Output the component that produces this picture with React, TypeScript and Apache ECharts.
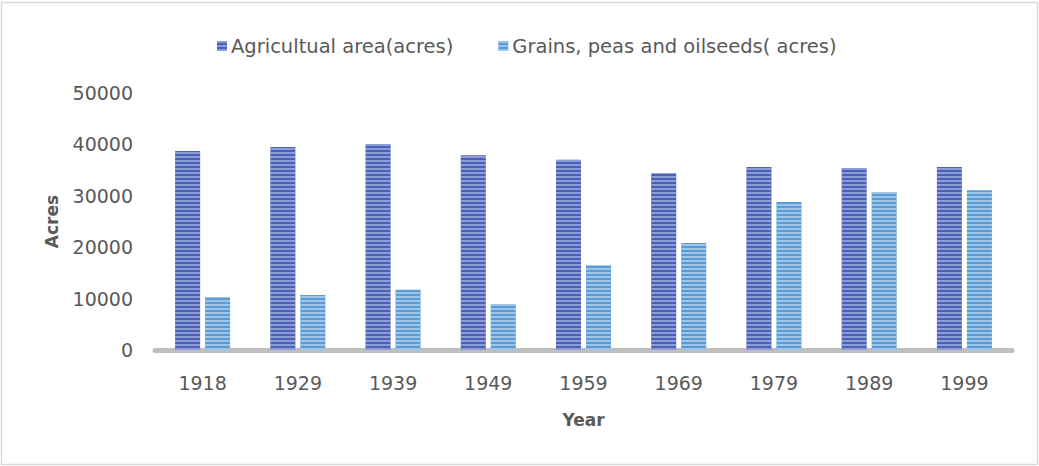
import React, { useEffect, useRef } from "react";
import * as echarts from "echarts";

const years = ["1918", "1929", "1939", "1949", "1959", "1969", "1979", "1989", "1999"];
const agriculturalArea = [38700, 39500, 40100, 37900, 37000, 34400, 35600, 35400, 35600];
const grainsPeasOilseeds = [10300, 10700, 11700, 8900, 16500, 20800, 28800, 30700, 31100];
const yTicks = [0, 10000, 20000, 30000, 40000, 50000];

const FONT = "'DejaVu Sans', 'Noto Sans', sans-serif";

export default function App() {
  const ref = useRef<HTMLDivElement>(null);
  useEffect(() => {
    if (!ref.current) return;
    const chart = echarts.init(ref.current, null, { renderer: "svg" });
    const stripe = (color: string) => ({
      symbol: "rect",
      symbolSize: 1,
      dashArrayX: [1, 0],
      dashArrayY: [1.6, 1.8],
      rotation: 0,
      color,
    });
    chart.setOption({
      animation: false,
      backgroundColor: "#ffffff",
      textStyle: { fontFamily: FONT },
      graphic: [
        {
          type: "rect",
          shape: { x: 1.5, y: 2.5, width: 1036, height: 462 },
          style: { fill: "none", stroke: "#d9d9d9", lineWidth: 1.5 },
          silent: true,
        },
      ],
      legend: {
        top: 31,
        left: 212,
        itemWidth: 10,
        itemHeight: 10,
        itemGap: 45,
        icon: "rect",
        textStyle: { fontSize: 19.5, color: "#595959", fontFamily: FONT, padding: [0, 0, 0, -1] },
        data: ["Agricultual area(acres)", "Grains, peas and oilseeds( acres)"],
      },
      grid: { left: 155, right: 27, top: 93, bottom: 116, containLabel: false },
      xAxis: {
        type: "category",
        data: years,
        name: "Year",
        nameLocation: "middle",
        nameGap: 61,
        nameTextStyle: { fontSize: 17, fontWeight: "bold", color: "#595959", fontFamily: FONT },
        axisLine: { show: true, lineStyle: { color: "#bfbfbf", width: 5 } },
        axisTick: { show: false },
        axisLabel: { fontSize: 19, color: "#595959", margin: 23, fontFamily: FONT },
      },
      yAxis: {
        type: "value",
        min: yTicks[0],
        max: yTicks[yTicks.length - 1],
        interval: 10000,
        name: "Acres",
        nameLocation: "middle",
        nameGap: 95,
        nameTextStyle: { fontSize: 17, fontWeight: "bold", color: "#595959", fontFamily: FONT },
        axisLine: { show: false },
        axisTick: { show: false },
        splitLine: { show: false },
        axisLabel: {
          fontSize: 19,
          color: "#595959",
          margin: 22,
          fontFamily: FONT,
          formatter: (v: number) => String(v),
        },
      },
      series: [
        {
          name: "Agricultual area(acres)",
          type: "bar",
          data: agriculturalArea,
          barWidth: 25,
          barGap: "20%",
          itemStyle: { color: "#4d60b6", decal: stripe("rgba(190,205,245,0.55)") },
        },
        {
          name: "Grains, peas and oilseeds( acres)",
          type: "bar",
          data: grainsPeasOilseeds,
          barWidth: 25,
          itemStyle: { color: "#5b9bd5", decal: stripe("rgba(210,230,250,0.55)") },
        },
      ],
    });
    return () => chart.dispose();
  }, []);
  return (
    <div
      ref={ref}
      style={{ position: "fixed", left: 0, top: 0, width: 1039, height: 466 }}
    />
  );
}
